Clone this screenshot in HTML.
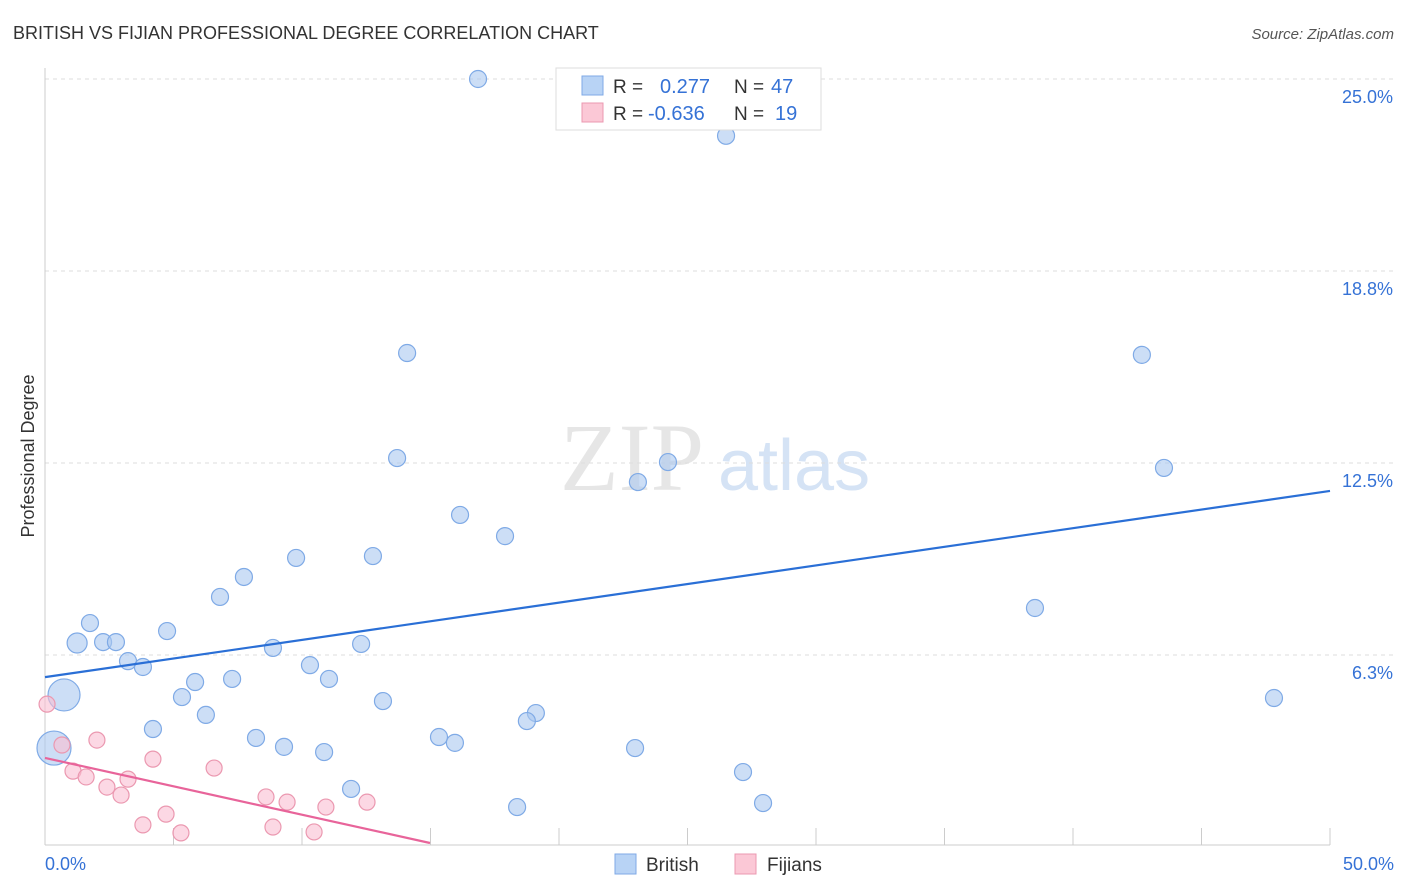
<!DOCTYPE html>
<html><head><meta charset="utf-8"><style>
body{margin:0;background:#fff;font-family:"Liberation Sans",sans-serif;}
svg{display:block}
</style></head><body>
<svg id="chart" width="1406" height="892">
<text x="13" y="39" font-size="18" fill="#333">BRITISH VS FIJIAN PROFESSIONAL DEGREE CORRELATION CHART</text>
<text x="1394" y="39" font-size="15" fill="#555" font-style="italic" text-anchor="end">Source: ZipAtlas.com</text>
<text x="560" y="490" font-size="96" fill="#e6e6e6" font-family="Liberation Serif">ZIP</text>
<text x="718" y="490" font-size="72" fill="#d5e3f5">atlas</text>
<text transform="translate(34,456) rotate(-90)" font-size="18" fill="#333" text-anchor="middle">Professional Degree</text>
<g id="grid"></g><g id="pts"></g><g id="lines"></g>
<g>
<rect x="556" y="68" width="265" height="62" fill="#fff" stroke="#ddd"/>
<rect x="582" y="76" width="21" height="19" fill="#b8d3f5" stroke="#7faae6"/>
<text x="613" y="93" font-size="19" fill="#333">R =</text><text x="660" y="93" font-size="20" fill="#3572d6">0.277</text>
<text x="734" y="93" font-size="19" fill="#333">N =</text><text x="771" y="93" font-size="20" fill="#3572d6">47</text>
<rect x="582" y="103" width="21" height="19" fill="#fbc8d6" stroke="#eb98b0"/>
<text x="613" y="120" font-size="19" fill="#333">R =</text><text x="648" y="120" font-size="20" fill="#3572d6">-0.636</text>
<text x="734" y="120" font-size="19" fill="#333">N =</text><text x="775" y="120" font-size="20" fill="#3572d6">19</text>
</g>
<g>
<rect x="615" y="854" width="21" height="20" fill="#b8d3f5" stroke="#7faae6"/>
<text x="646" y="871" font-size="19" fill="#333">British</text>
<rect x="735" y="854" width="21" height="20" fill="#fbc8d6" stroke="#eb98b0"/>
<text x="767" y="871" font-size="19" fill="#333">Fijians</text>
</g>
</svg>
<script>
const yTicks=[25.0,18.8,12.5,6.3];
const yTickVals=[25,18.75,12.5,6.25];
const brX=[16.85,26.5,14.09,42.68,13.70,24.24,23.07,43.54,16.15,17.90,9.77,12.76,7.74,6.81,38.52,1.75,4.75,1.25,2.26,2.76,12.30,8.87,3.23,3.81,10.31,5.84,7.28,11.05,0.74,5.33,13.15,47.82,6.26,19.1,18.75,4.20,15.33,15.95,8.21,9.30,10.86,22.96,0.35,27.16,11.91,27.94,18.37];
const brY=[25.0,23.15,16.08,16.02,12.66,12.53,11.88,12.34,10.81,10.12,9.41,9.47,8.79,8.14,7.78,7.29,7.03,6.64,6.67,6.67,6.61,6.48,6.05,5.86,5.92,5.37,5.47,5.47,4.95,4.88,4.75,4.85,4.30,4.36,4.10,3.84,3.58,3.39,3.55,3.26,3.09,3.22,3.22,2.44,1.89,1.43,1.30];
const fjX=[0.08,0.66,2.02,1.09,1.60,4.20,3.23,2.41,2.96,6.58,8.60,9.42,10.93,12.53,4.71,3.81,5.29,8.87,10.47];
const fjY=[4.65,3.32,3.48,2.47,2.28,2.86,2.21,1.95,1.69,2.57,1.63,1.46,1.30,1.46,1.07,0.72,0.46,0.65,0.49];
const brTrend=[[0,5.53],[50,11.59]];
const fjTrend=[[0,2.90],[14.98,0.13]];
const NS="http://www.w3.org/2000/svg";
const sx=v=>45+v*25.7, sy=v=>847-v*30.72;
function mk(t,a,p){const e=document.createElementNS(NS,t);for(const k in a)e.setAttribute(k,a[k]);p.appendChild(e);return e;}
const g=document.getElementById('grid');
yTickVals.forEach((v,i)=>{
 const l=mk('line',{x1:45,x2:1395,y1:sy(v),y2:sy(v),stroke:'#ddd','stroke-dasharray':'4,4'},g);
 
 
 const t=mk('text',{x:1393,y:sy(v)+24,'font-size':18,fill:'#3572d6','text-anchor':'end'},g);
 t.textContent=yTicks[i].toFixed(1)+'%';
 
 
});
mk('line',{x1:45,x2:45,y1:68,y2:845,stroke:'#ccc'},g);
mk('line',{x1:45,x2:1330,y1:845,y2:845,stroke:'#ccc'},g);
for(let i=1;i<=10;i++){mk('line',{x1:sx(i*5),x2:sx(i*5),y1:828,y2:845,stroke:'#ccc'},g);}
let t0=mk('text',{x:45,y:870,'font-size':18,fill:'#3572d6'},g);t0.textContent='0.0%';


let t1=mk('text',{x:1394,y:870,'font-size':18,fill:'#3572d6','text-anchor':'end'},g);t1.textContent='50.0%';


const p=document.getElementById('pts');
brX.forEach((x,i)=>{
 const big=(i===28)?16:(i===42?17:(i===17?10:8.5));
 const c=mk('circle',{cx:sx(x),cy:sy(brY[i]),r:big,fill:'rgba(170,200,240,0.6)',stroke:'#7faae6','stroke-width':1.2},p);
 
 
});
fjX.forEach((x,i)=>{
 const c=mk('circle',{cx:sx(x),cy:sy(fjY[i]),r:8,fill:'rgba(250,190,210,0.6)',stroke:'#eb98b0','stroke-width':1.2},p);
 
 
});
const L=document.getElementById('lines');
const b=mk('line',{x1:sx(brTrend[0][0]),y1:sy(brTrend[0][1]),x2:sx(brTrend[1][0]),y2:sy(brTrend[1][1]),stroke:'#2a6fd6','stroke-width':2.2},L);


const f=mk('line',{x1:sx(fjTrend[0][0]),y1:sy(fjTrend[0][1]),x2:sx(fjTrend[1][0]),y2:sy(fjTrend[1][1]),stroke:'#e8649a','stroke-width':2.2},L);


</script>
</body></html>
